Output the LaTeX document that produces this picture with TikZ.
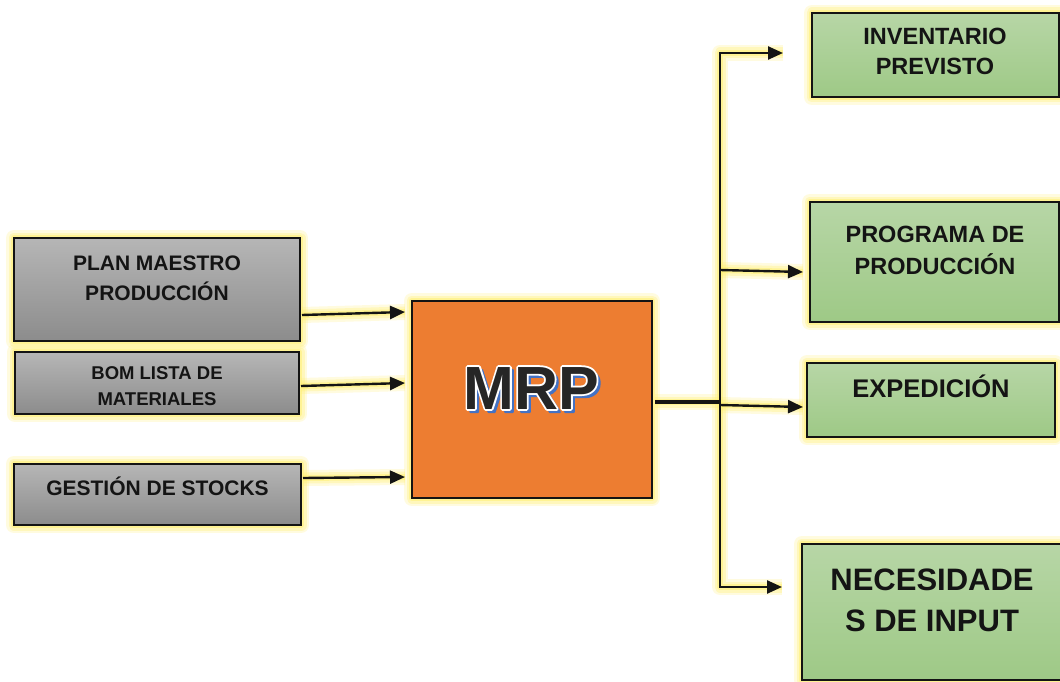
\documentclass[tikz,border=0pt]{standalone}
\usepackage{fontspec}
\setmainfont{Liberation Sans}
\usetikzlibrary{arrows.meta}

\definecolor{glowc}{RGB}{255,240,110}
\definecolor{greytop}{RGB}{182,182,182}
\definecolor{greybot}{RGB}{140,140,140}
\definecolor{greentop}{RGB}{183,214,166}
\definecolor{greenbot}{RGB}{158,201,134}
\definecolor{mrporange}{RGB}{237,125,49}
\definecolor{mrpdark}{RGB}{38,38,38}
\definecolor{mrpblue}{RGB}{68,114,196}
\definecolor{ink}{RGB}{20,20,20}

\newcommand{\fsz}[2]{\fontsize{#1}{#2}\selectfont\bfseries}
% glyphs filled and stroked (round joins) with the current colour
\newcommand{\strokedtext}[2]{\special{pdf:literal direct 2 Tr 1 j #1 w}#2\special{pdf:literal direct 0 Tr 0 j}}

\pgfdeclarelayer{background}
\pgfsetlayers{background,main}

\tikzset{
  glow/.style={
    preaction={draw=glowc, line width=16pt, opacity=.22, -, line join=round},
    preaction={draw=glowc, line width=11pt, opacity=.30, -, line join=round},
    preaction={draw=glowc, line width=6pt,  opacity=.50, -, line join=round}},
  box/.style={glow, draw=ink, line width=1.8pt, rectangle, inner sep=0pt,
    outer sep=0pt, anchor=north west},
  greybox/.style={box, top color=greytop, bottom color=greybot},
  greenbox/.style={box, top color=greentop, bottom color=greenbot},
  boxtext/.style={text=ink, align=center, inner sep=0pt},
  mrpfont/.style={font=\fontsize{61}{61}\selectfont\bfseries, inner sep=0pt, anchor=base},
  conn/.style={draw=ink, line width=2.4pt, line join=miter,
    -{Triangle[length=15pt,width=13pt]}},
  trunk/.style={draw=ink, line width=3.5pt}
}

\begin{document}
\begin{tikzpicture}[x=1pt,y=-1pt]
\useasboundingbox (0,0) rectangle (1060,682);
\begin{pgfonlayer}{background}
  \fill[white] (0,0) rectangle (1060,682);
\end{pgfonlayer}

% input boxes
\node[greybox, minimum width=286pt, minimum height=103pt] (plan)  at (14,238) {};
\node[greybox, minimum width=284pt, minimum height=62pt]  (bom)   at (15,352) {};
\node[greybox, minimum width=287pt, minimum height=61pt]  (stock) at (14,464) {};

% central block
\node[box, fill=mrporange, line width=2.2pt, minimum width=240pt, minimum height=197pt] (mrp) at (412,301) {};

% output boxes
\node[greenbox, minimum width=247pt, minimum height=84pt]  (inv)  at (812,13)  {};
\node[greenbox, minimum width=249pt, minimum height=120pt] (prog) at (810,202) {};
\node[greenbox, minimum width=248pt, minimum height=74pt]  (exp)  at (807,363) {};
\node[greenbox, minimum width=262pt, minimum height=136pt] (nec)  at (802,544) {};

% box captions
\node[boxtext, font=\fsz{21}{30}, anchor=north] (plant) at (157,256) {PLAN MAESTRO\\PRODUCCIÓN};
\node[boxtext, font=\fsz{18.5}{26}, anchor=north] (bomt) at (157,366.7) {BOM LISTA DE\\MATERIALES};
\node[boxtext, font=\fsz{21}{25}, anchor=base] (stockt) at (157.5,495) {GESTIÓN DE STOCKS};
\node[boxtext, font=\fsz{23.5}{30}, anchor=north] (invt) at (935,28) {INVENTARIO\\PREVISTO};
\node[boxtext, font=\fsz{23.5}{32}, anchor=north] (progt) at (935,226) {PROGRAMA DE\\PRODUCCIÓN};
\node[boxtext, font=\fsz{25.5}{30}, anchor=base] (expt) at (931,397) {EXPEDICIÓN};
\node[boxtext, font=\fsz{31}{41}, anchor=north] (nect) at (932,569) {NECESIDADE\\S DE INPUT};

% title: blue offset shadow, white stroked outline, dark face
\coordinate (mrpbase) at (531,409);
\node[mrpfont, text=mrpblue] (mrpshadow) at ([shift={(3pt,-3pt)}]mrpbase) {\strokedtext{2}{MRP}};
\node[mrpfont, text=white] (mrpedge) at (mrpbase) {\strokedtext{3.6}{MRP}};
\node[mrpfont, text=mrpdark] (mrpt) at (mrpbase) {MRP};

% connector end points
\coordinate (in1s) at ([xshift=2pt,yshift=-25.5pt]plan.east);
\coordinate (in1e) at ([xshift=-7pt,yshift=87.5pt]mrp.west);
\coordinate (in2s) at ([xshift=2pt,yshift=-3pt]bom.east);
\coordinate (in2e) at ([xshift=-7pt,yshift=16.5pt]mrp.west);
\coordinate (in3s) at ([xshift=2pt,yshift=16.5pt]stock.east);
\coordinate (in3e) at ([xshift=-7pt,yshift=-77.5pt]mrp.west);
\coordinate (outs) at ([xshift=3pt,yshift=-2.5pt]mrp.east);
\coordinate (hub)  at (720,402);
\coordinate (ttop) at (720,53);
\coordinate (tbot) at (720,587);
\coordinate (b2)   at (720,270);
\coordinate (b3)   at (720,405);
\coordinate (o1) at ([xshift=-29pt,yshift=2pt]inv.west);
\coordinate (o2) at ([xshift=-7pt,yshift=-10pt]prog.west);
\coordinate (o3) at ([xshift=-4pt,yshift=-7pt]exp.west);
\coordinate (o4) at ([xshift=-20pt,yshift=25pt]nec.west);

% soft halo behind the connectors
\begin{pgfonlayer}{background}
  \path[glow] (in1s) -- (in1e);
  \path[glow] (in2s) -- (in2e);
  \path[glow] (in3s) -- (in3e);
  \path[glow] (outs) -- (hub);
  \path[glow] (o1) -- (ttop) -- (tbot) -- (o4);
  \path[glow] (b2) -- (o2);
  \path[glow] (b3) -- (o3);
\end{pgfonlayer}

% connectors
\draw[conn] (in1s) -- (in1e);
\draw[conn] (in2s) -- (in2e);
\draw[conn] (in3s) -- (in3e);
\draw[trunk] (outs) -- (hub);
\draw[conn] (tbot) -- (ttop) -- (o1);
\draw[conn] (ttop) -- (tbot) -- (o4);
\draw[conn] (b2) -- (o2);
\draw[conn] (b3) -- (o3);
\end{tikzpicture}
\end{document}
